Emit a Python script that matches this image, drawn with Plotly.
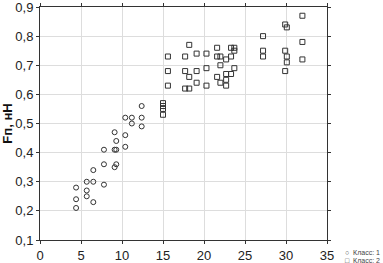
import plotly.graph_objects as go

# Class 1 (circles)
x1 = [4.4, 4.4, 4.4, 5.7, 5.7, 5.7, 6.5, 6.5, 6.5, 7.8, 7.8, 7.8,
      9.1, 9.1, 9.1, 9.3, 9.3, 9.3, 10.4, 10.4, 10.4, 11.2, 11.2,
      12.4, 12.4, 12.4]
y1 = [0.28, 0.24, 0.21, 0.30, 0.27, 0.25, 0.34, 0.30, 0.23, 0.41, 0.36, 0.29,
      0.47, 0.41, 0.35, 0.44, 0.41, 0.36, 0.52, 0.46, 0.42, 0.52, 0.50,
      0.56, 0.52, 0.49]

# Class 2 (squares)
x2 = [15.0, 15.0, 15.0, 15.0,
      15.6, 15.6, 15.6, 17.7, 17.7, 17.7, 18.2, 18.2, 18.2,
      19.1, 19.1, 19.1, 20.3, 20.3, 20.3, 21.6, 21.6, 21.6,
      22.0, 22.0, 22.0, 22.7, 22.7, 22.7, 22.7,
      23.3, 23.3, 23.3, 23.7, 23.7, 23.7,
      27.2, 27.2, 27.2, 29.9, 29.9, 29.9, 30.1, 30.1, 30.1,
      32.0, 32.0, 32.0]
y2 = [0.57, 0.56, 0.55, 0.53,
      0.73, 0.68, 0.63, 0.73, 0.68, 0.62, 0.77, 0.66, 0.62,
      0.74, 0.68, 0.64, 0.74, 0.69, 0.63, 0.76, 0.73, 0.66,
      0.73, 0.70, 0.64, 0.72, 0.67, 0.65, 0.63,
      0.76, 0.73, 0.67, 0.76, 0.75, 0.69,
      0.80, 0.75, 0.73, 0.84, 0.75, 0.68, 0.83, 0.73, 0.71,
      0.87, 0.78, 0.72]

x_ticks = [0, 5, 10, 15, 20, 25, 30, 35]
y_ticks = [0.1, 0.2, 0.3, 0.4, 0.5, 0.6, 0.7, 0.8, 0.9]
legend_labels = ["Класс: 1", "Класс: 2"]
legend_symbols = ["○", "□"]

fig = go.Figure()
fig.add_trace(go.Scatter(x=x1, y=y1, mode="markers", name=legend_labels[0],
                         marker=dict(symbol="circle-open", size=5,
                                     color="#333", line=dict(width=1))))
fig.add_trace(go.Scatter(x=x2, y=y2, mode="markers", name=legend_labels[1],
                         marker=dict(symbol="square-open", size=5,
                                     color="#333", line=dict(width=1))))

axis_common = dict(showgrid=True, gridcolor="#dddddd", gridwidth=1,
                   showline=True, linecolor="#333", linewidth=1,
                   mirror="ticks", ticks="outside", ticklen=3,
                   tickcolor="#333", zeroline=False, automargin=False,
                   ticklabeloverflow="allow",
                   tickfont=dict(family="Liberation Sans, Arial", size=13, color="#222"))

fig.update_xaxes(range=[0, 35], tickvals=x_ticks, **axis_common)
fig.update_yaxes(range=[0.1, 0.9], tickvals=y_ticks, tickformat=".1f",
                 title=dict(text="<b>Fп, нН</b>", standoff=10,
                            font=dict(family="Liberation Sans, Arial", size=13, color="#111")),
                 **axis_common)

for i, (sym, lab) in enumerate(zip(legend_symbols, legend_labels)):
    fig.add_annotation(xref="paper", yref="paper", x=1.055, y=-0.052 - i * 0.036,
                       xanchor="left", yanchor="middle", showarrow=False,
                       text=f"{sym}  {lab}",
                       font=dict(family="Liberation Sans, Arial", size=7, color="#444"))

fig.update_layout(
    width=383, height=263,
    margin=dict(l=40, r=56, t=7, b=23),
    paper_bgcolor="white", plot_bgcolor="white",
    separators=", ",
    showlegend=False,
)

fig.write_html("out.html", config={"displayModeBar": False},
               post_script="document.body.style.margin='0';document.body.style.overflow='hidden';")
